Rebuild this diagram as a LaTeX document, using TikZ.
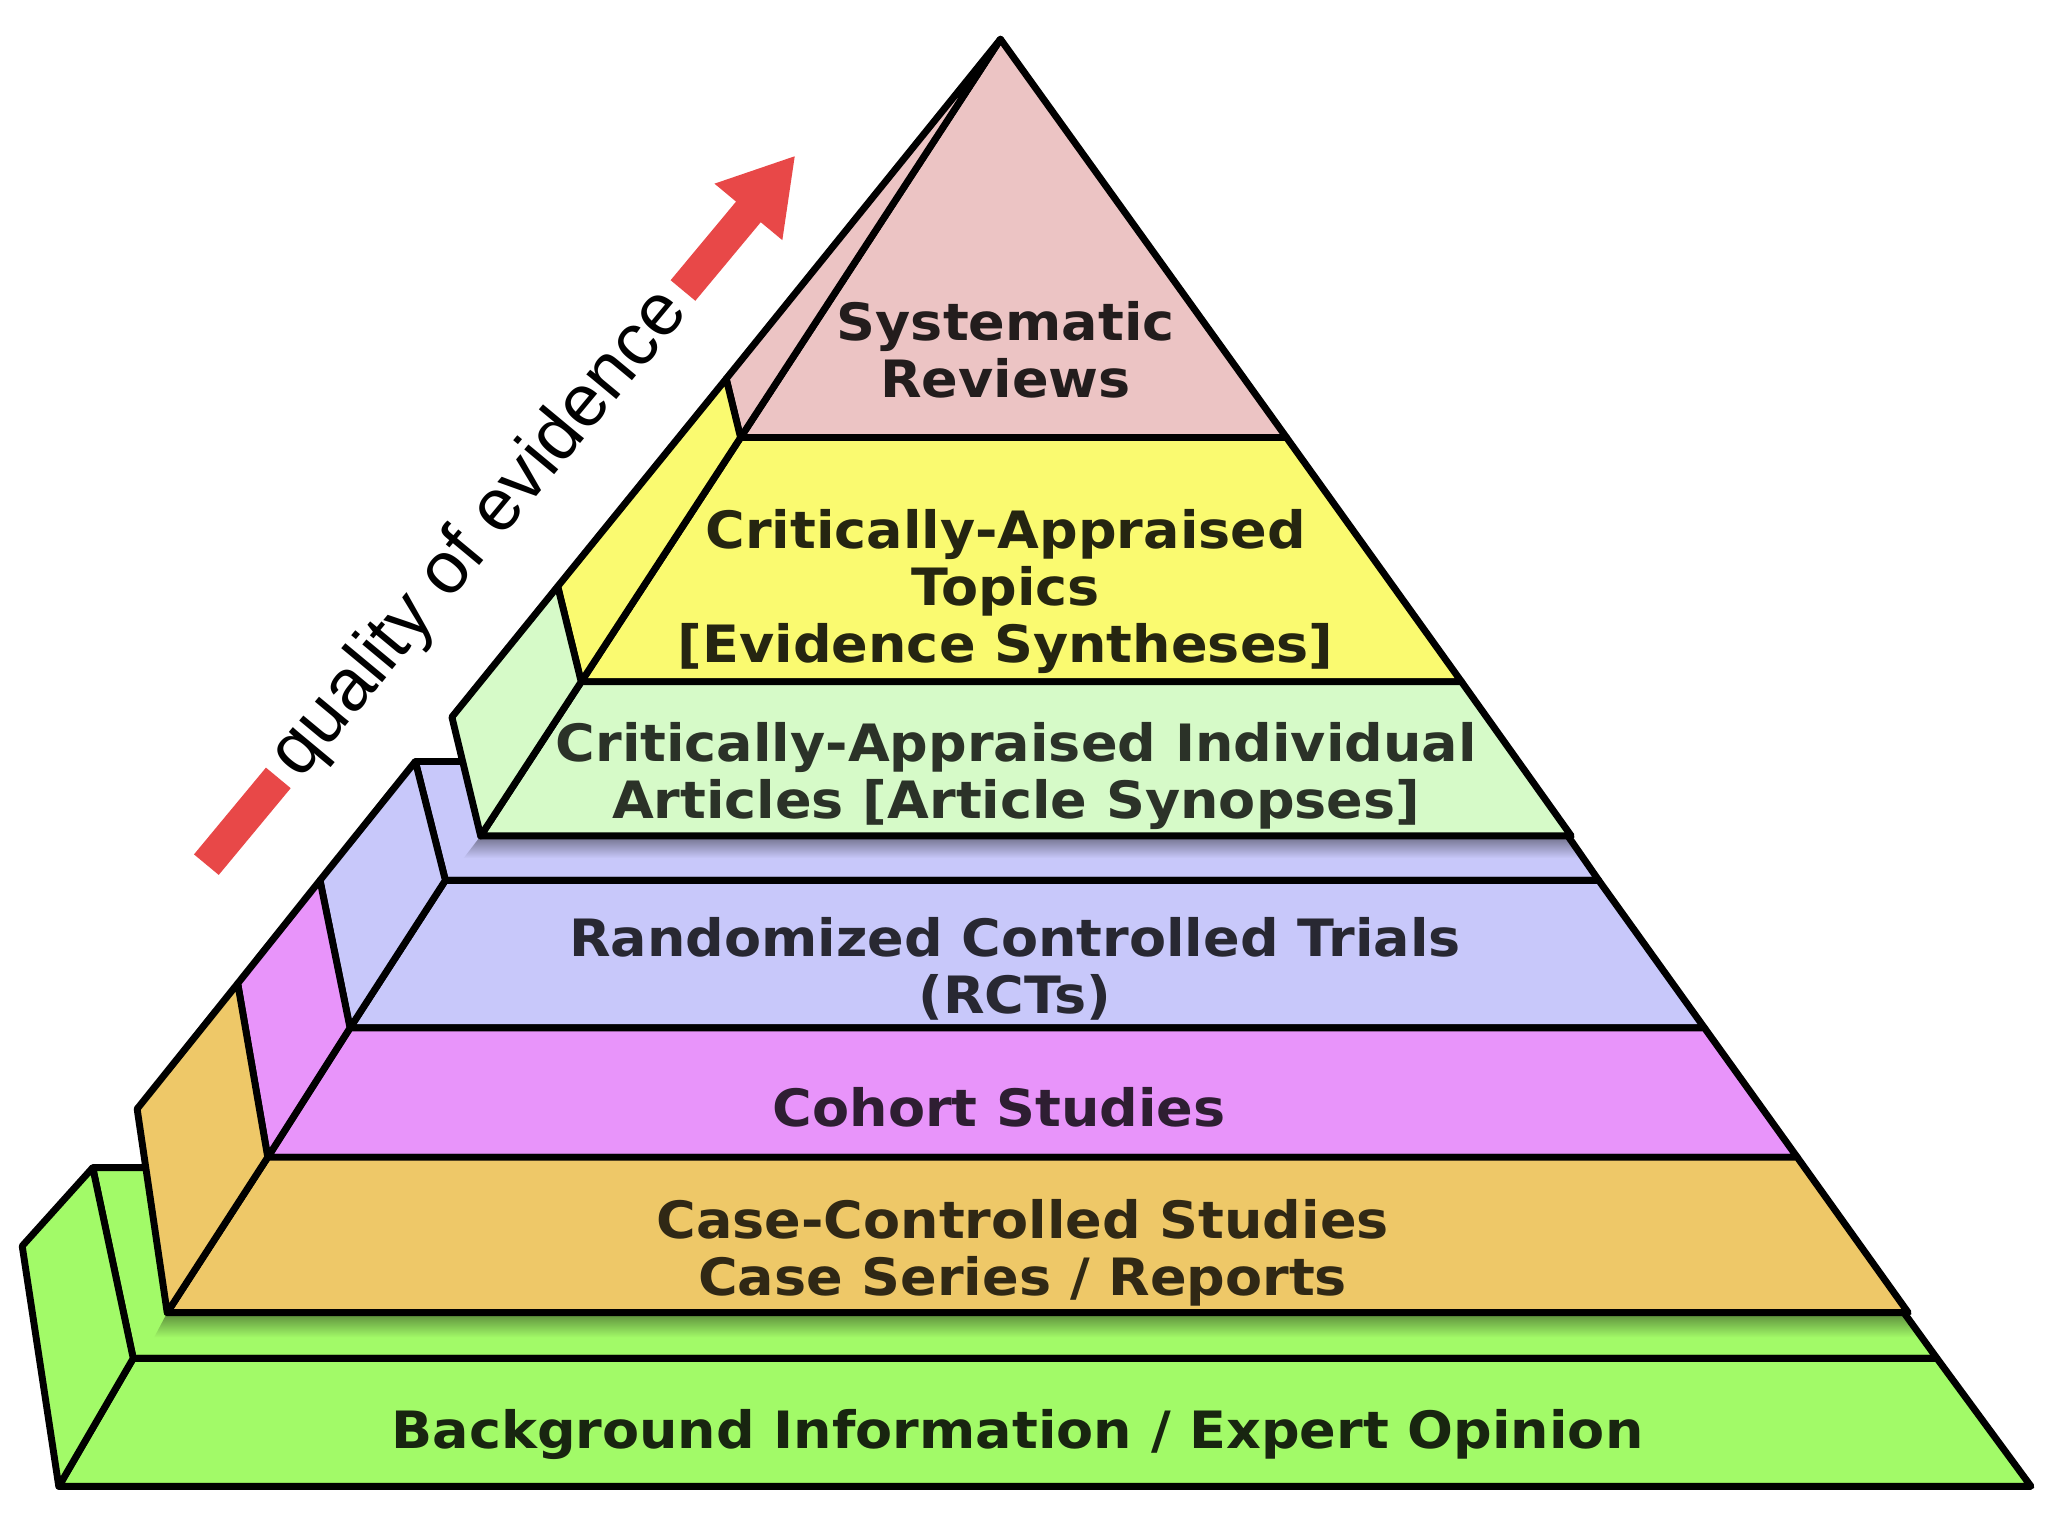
\documentclass[tikz,border=0pt]{standalone}
\usepackage{fontspec}
\setmainfont{DejaVu Sans}
\newfontfamily\setafont{Liberation Sans}
\usepackage{tikz}
\usetikzlibrary{arrows.meta}
\definecolor{corRosa}{RGB}{236, 196, 196}
\definecolor{corAmarelo}{RGB}{250, 250, 112}
\definecolor{corVerdeClaro}{RGB}{214, 250, 200}
\definecolor{corLavanda}{RGB}{200, 200, 250}
\definecolor{corVioleta}{RGB}{232, 148, 250}
\definecolor{corLaranja}{RGB}{238, 200, 104}
\definecolor{corVerde}{RGB}{162, 250, 104}
\definecolor{corSeta}{RGB}{232, 72, 72}

\begin{document}
\begin{tikzpicture}[
    x=0.01cm, y=-0.01cm,
    face/.style={draw=black, line width=1.5pt, line join=round},
    rotulo/.style={font=\fontsize{11.2}{12.4}\selectfont\bfseries, align=center, xscale=1.05}
]
\useasboundingbox[fill=white] (0,0) rectangle (1568,1176);

\coordinate (cauda) at (158,662);
\coordinate (ponta) at (609,119);
\node[rotate=50.3, font=\setafont\fontsize{16}{18}\selectfont, inner xsep=2.5pt] (qual) at (368,409) {quality of evidence};
\draw[corSeta, line width=7pt] (cauda) -- (qual.west);
\draw[corSeta, line width=7pt, -{Triangle[width=18pt, length=16pt]}] (qual.east) -- (ponta);

\fill[corVerde] (71,894) -- (1370,894) -- (1436,975) -- (1483,1040) -- (102,1040) -- cycle;
\shade[top color=corVerde!55!black, bottom color=corVerde] (128,1005) -- (1458,1005) -- (1470,1024) -- (118,1024) -- cycle;
\draw[face] (71,894) -- (1370,894) -- (1436,975) -- (1483,1040) -- (102,1040) -- cycle;
\draw[face, fill=corVerde] (102,1040) -- (1483,1040) -- (1555,1138) -- (45,1138) -- cycle;
\draw[face, fill=corVerde] (71,894) -- (102,1040) -- (45,1138) -- (17,954) -- cycle;

\fill[corLavanda] (318,583) -- (1150,583) -- (1190,625) -- (1224,674) -- (341,674) -- cycle;
\shade[top color=corLavanda!55!black, bottom color=corLavanda] (368,640) -- (1201,640) -- (1212,657) -- (355,657) -- cycle;
\draw[face] (318,583) -- (1150,583) -- (1190,625) -- (1224,674) -- (341,674) -- cycle;
\draw[face, fill=corLavanda] (341,674) -- (1224,674) -- (1305,787) -- (268,787) -- cycle;
\draw[face, fill=corVioleta] (268,787) -- (1305,787) -- (1376,886) -- (205,886) -- cycle;
\draw[face, fill=corLaranja] (205,886) -- (1376,886) -- (1461,1005) -- (128,1005) -- cycle;
\draw[face, fill=corLavanda] (318,583) -- (341,674) -- (268,787) -- (245,674) -- cycle;
\draw[face, fill=corVioleta] (245,674) -- (268,787) -- (205,886) -- (182,753) -- cycle;
\draw[face, fill=corLaranja] (182,753) -- (205,886) -- (128,1005) -- (105,849) -- cycle;

\draw[face, fill=corRosa] (766,30) -- (985,335) -- (567,335) -- cycle;
\draw[face, fill=corAmarelo] (567,335) -- (985,335) -- (1119,522) -- (445,522) -- cycle;
\draw[face, fill=corVerdeClaro] (445,522) -- (1119,522) -- (1203,640) -- (368,640) -- cycle;
\draw[face, fill=corRosa] (766,30) -- (567,335) -- (556,290) -- cycle;
\draw[face, fill=corAmarelo] (556,290) -- (567,335) -- (445,522) -- (427,449) -- cycle;
\draw[face, fill=corVerdeClaro] (427,449) -- (445,522) -- (368,640) -- (346,549) -- cycle;

\node[rotulo, text=corRosa!15!black] (sr) at (770,268) {Systematic\\Reviews};
\node[rotulo, text=corAmarelo!15!black] (cat) at (770,453) {Critically-Appraised\\Topics\\{}[Evidence Syntheses]};
\node[rotulo, text=corVerdeClaro!20!black] (cai) at (778,594) {Critically-Appraised Individual\\Articles [Article Synopses]};
\node[rotulo, text=corLavanda!20!black] (rct) at (777,742) {Randomized Controlled Trials\\(RCTs)};
\node[rotulo, text=corVioleta!20!black] (coorte) at (765,848) {Cohort Studies};
\node[rotulo, text=corLaranja!20!black] (caso) at (783,959) {Case-Controlled Studies\\Case Series / Reports};
\node[rotulo, text=corVerde!15!black] (fundo) at (779,1098) {Background Information / Expert Opinion};
\end{tikzpicture}
\end{document}
